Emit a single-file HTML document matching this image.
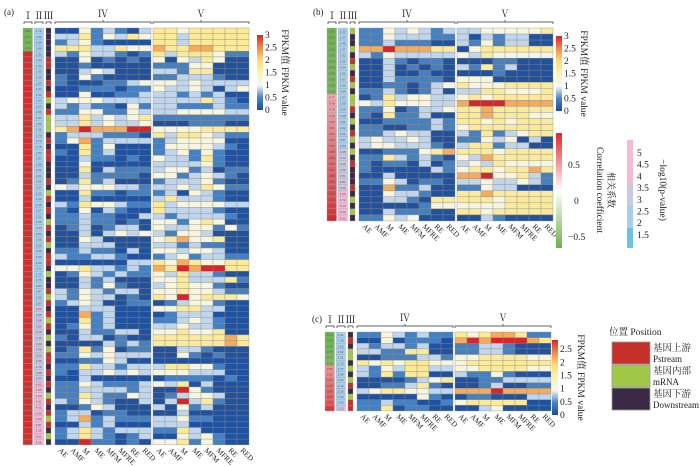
<!DOCTYPE html>
<html><head><meta charset="utf-8">
<style>
body{margin:0;background:#fff;}
svg{display:block;font-family:"Liberation Serif","Noto Serif CJK SC",serif;}
</style></head>
<body>
<svg id="fig" width="700" height="467" viewBox="0 0 700 467" xmlns="http://www.w3.org/2000/svg">
<defs>
<linearGradient id="fpkm" x1="0" y1="1" x2="0" y2="0">
<stop offset="0" stop-color="#1c4c9c"/><stop offset="0.17" stop-color="#4a86c5"/><stop offset="0.33" stop-color="#f4f7fb"/><stop offset="0.5" stop-color="#fbf3b0"/><stop offset="0.67" stop-color="#f9dc76"/><stop offset="0.83" stop-color="#f08a4b"/><stop offset="1" stop-color="#d9252a"/>
</linearGradient>
<linearGradient id="corr" x1="0" y1="1" x2="0" y2="0">
<stop offset="0" stop-color="#6fb24a"/><stop offset="0.5" stop-color="#ffffff"/><stop offset="1" stop-color="#e0262b"/>
</linearGradient>
</defs>
</svg>
<script>
// FPKM value codes (0..6) per row: 8 columns of IV followed by 8 columns of V
const levelValues=[0.05,0.45,0.85,1.2,1.7,2.3,3.0];
const samples=["AE","AMF","M","ME","MFM","MFRE","RE","RED"];
const rowsA=["0031210244344444","2241324344244444","1231000044244444","4442243354455444","2132210142444311","0030101030324300","0010000011133000","0023200022144000","1031000011222100","1000112333232222","0011101132232023","0030011222121200","2333222222224210","2121103122111211","1133113222333322","2242323411111111","2242322300011100","4565556633334444","1222111042443211","1351222212333300","0041300013333210","1041200012313100","0021101032214100","0030000022223100","0040211123312011","0021111033123210","0141200012223100","3233322122324311","0041101112032100","0020000024222100","2143321142333322","1030210042222100","1121100221222210","1121101033134300","0120122032233131","0020232321332000","0032000034533400","0022200022121100","1121102033233200","2112210012312211","0000002243543344","3342212154656644","0132121132422100","0021200033422241","0021310023433100","2132122033433211","2132201043634443","1232001101233100","0022200033442200","0051200001222000","0041200011232100","0131200022322100","0021122033433400","1022010044444454","0000212144444454","0141301100221000","1132322200310100","0011320000000000","1142212224433100","1022323233322200","0020000001111010","1132111232402000","1122221200631000","1142113201233200","2132100202624100","0013200020312000","1220110000200000","1251211122311000","0021200022200000","1242122211420000","1242101200323100","0061101033413100"];
const posA="dddddrrddrdrgdrgggdrdrrdddrdgrdrdgrdrgdrrdgddrgrdrgrdgdgrrdrdrdgrdrgrdgdgr";
const rowsB=["1132321222333334","1132221120212200","1121110021312200","5565554403444444","2132222232433333","0021011000011000","0020101021412000","0020010000010000","0021111033300000","0011012343334444","1121012022443334","0142332234344444","3243332256665555","1130122344544444","1041120044544433","0011112144343444","1100112134444444","1123220021412344","2322320011323020","2332221024412200","0011134544434444","1142121032544444","1011020123243333","1000002134434454","0020000055633421","1132011022322321","0051120011322000","0032210044544444","0022104444434444","0000013333334444","0021110044344444","1132300000210000"];
const posB="gddgdrgdrgdggrdgdrgdgdrdddrdgdgd";
const rowsC=["1132121143455411","0030111056566654","2122120011221000","2211440011221000","0011122133444433","4343443334444444","2132442233444433","2141440021131000","0000123400112222","0011241000120011","2344332255565555","0000031001100022","1121100134444400","1140110000230000"];
const posC="drdggdgdgrdgrr";
const corrA=["-0.80","-0.77","-0.74","-0.74","0.73","0.73","0.73","0.73","0.73","0.74","0.74","0.74","0.75","0.75","0.76","0.76","0.77","0.78","0.79","0.80","0.80","0.81","0.82","0.83","0.84","0.84","0.84","0.84","0.85","0.85","0.86","0.86","0.87","0.87","0.87","0.88","0.88","0.88","0.89","0.89","0.89","0.89","0.90","0.90","0.90","0.91","0.91","0.91","0.92","0.92","0.92","0.93","0.93","0.94","0.94","0.94","0.95","0.95","0.95","0.96","0.96","0.96","0.97","0.97","0.97","0.98","0.98","0.98","0.99","0.99","0.99","0.99"];
const pA=["1.76","1.80","1.88","1.88","1.30","1.33","1.33","1.33","1.33","1.39","1.43","1.52","1.53","1.53","1.56","1.57","1.59","1.65","1.70","1.72","1.75","1.82","1.83","1.88","2.01","2.04","2.06","2.07","2.10","2.16","2.19","2.27","2.31","2.36","2.50","2.52","2.55","2.56","2.60","2.63","2.69","2.71","2.73","2.76","2.80","2.87","2.92","2.97","3.02","3.05","3.08","3.09","3.16","3.19","3.29","3.38","3.56","3.65","3.76","3.88","3.95","4.03","4.05","4.09","4.11","4.21","4.39","4.53","4.87","5.18","5.61","6.06"];
const corrB=["-0.71","-0.71","-0.72","-0.72","-0.73","-0.73","-0.74","-0.74","-0.75","-0.75","-0.76","0.77","0.78","0.78","0.79","0.80","0.81","0.82","0.83","0.84","0.85","0.86","0.86","0.87","0.88","0.88","0.89","0.90","0.91","0.92","0.93","0.95"];
const pB=["1.33","1.37","1.45","1.47","1.52","1.52","1.64","1.66","1.67","1.80","1.86","1.97","2.00","2.06","2.38","2.41","2.52","2.62","2.67","2.93","3.08","3.12","3.26","3.30","3.51","3.82","3.90","4.06","4.73","5.10","5.20","5.30"];
const corrC=["-0.71","-0.72","-0.73","-0.75","-0.77","-0.79","0.80","0.81","0.84","0.85","0.86","0.87","0.88","0.92"];
const pC=["1.31","1.35","1.52","1.52","1.61","1.72","1.77","1.99","2.02","2.16","2.25","2.30","2.62","3.13"];

const NS="http://www.w3.org/2000/svg";
const svg=document.getElementById("fig");
function mk(tag,attrs,parent){const e=document.createElementNS(NS,tag);for(const k in attrs)e.setAttribute(k,attrs[k]);(parent||svg).appendChild(e);return e;}
function txt(x,y,s,size,extra,parent){const t=mk("text",Object.assign({x:x,y:y,"font-size":size,fill:"#222"},extra||{}),parent);t.textContent=s;return t;}
function lerp(a,b,t){return Math.round(a+(b-a)*t);}
const stops=[[0,[28,76,156]],[0.5,[74,134,197]],[1,[244,247,251]],[1.5,[251,243,176]],[2,[249,220,118]],[2.5,[240,138,75]],[3,[217,37,42]]];
function fpkmColor(v){v=Math.max(0,Math.min(3,v));for(let i=0;i<stops.length-1;i++){const a=stops[i],b=stops[i+1];if(v<=b[0]){const t=(v-a[0])/(b[0]-a[0]);return `rgb(${lerp(a[1][0],b[1][0],t)},${lerp(a[1][1],b[1][1],t)},${lerp(a[1][2],b[1][2],t)})`;}}return "rgb(217,37,42)";}
// panel a: solid; panels b/c: graded by |r|
function corrColorSolid(c){return parseFloat(c)<0?"#74b553":"#d9302d";}
function corrColorGraded(c){c=parseFloat(c);const t=Math.max(0,Math.min(1,(Math.abs(c)-0.7)/0.25));
  if(c<0)return `rgb(${lerp(150,110,1-t)},${lerp(200,180,1-t)},${lerp(120,80,1-t)})`;
  return `rgb(${lerp(250,222,t)},${lerp(215,40,t)},${lerp(222,45,t)})`;}
function pColor(p){p=parseFloat(p);if(p<3)return "#a8d0ee";if(p<4)return "#c9c9e2";return "#f4b9d4";}
const posColors={r:"#c5302b",g:"#a2c84a",d:"#3a2a45"};

function panel(name,rows,pos,corr,pv,x0,y0,h,cfn){
  const g=mk("g",{});
  
  
  const cw=12,gap=2,n=rows.length;
  const xI=x0-32,xII=x0-21,xIII=x0-9;
  const yOf=i=>y0+i*h;
  rows.forEach((r,i)=>{
    const y=yOf(i);
    const c1=mk("rect",{x:xI,y:y,width:9.5,height:h,fill:cfn(corr[i]),stroke:"#999","stroke-width":0.3},g);
    
    
    txt(xI+4.7,y+h*0.72,corr[i].replace("-",""),3,{"text-anchor":"middle",fill:"#555","font-family":"Liberation Sans"},g);
    const c2=mk("rect",{x:xII,y:y,width:9.5,height:h,fill:pColor(pv[i]),stroke:"#999","stroke-width":0.3},g);
    
    
    txt(xII+4.7,y+h*0.72,pv[i],3,{"text-anchor":"middle",fill:"#555","font-family":"Liberation Sans"},g);
    const c3=mk("rect",{x:xIII,y:y,width:5,height:h,fill:posColors[pos[i]],stroke:"#999","stroke-width":0.3},g);
    
    
    for(let j=0;j<16;j++){
      const v=levelValues[+r[j]];
      const x=x0+(j<8?j*cw:8*cw+gap+(j-8)*cw);
      const cell=mk("rect",{x:x,y:y,width:cw,height:h,fill:fpkmColor(v),stroke:"#8a8a8a","stroke-width":0.35},g);
      
      
    }
  });
  const yb=y0+n*h;
  for(let blk=0;blk<2;blk++){
    samples.forEach((s,j)=>{
      const x=x0+blk*(8*cw+gap)+j*cw+3;
      const t=txt(x,yb+6,s,7.5,{transform:`rotate(45 ${x} ${yb+6})`},g);
      
      
    });
  }
  const by=y0-6;
  function bracket(a,b,lab,ly){
    mk("path",{d:`M${a} ${by+2}V${by}H${b}V${by+2}`,fill:"none",stroke:"#333","stroke-width":0.7},g);
    if(b-a>20){mk("line",{x1:(a+b)/2,y1:by,x2:(a+b)/2,y2:by-2,stroke:"#333","stroke-width":0.7},g);}
    const t=txt((a+b)/2,ly,lab,10,{"text-anchor":"middle"},g);
    
    
  }
  bracket(xI+1,xI+9,"Ⅰ",by-3);bracket(xII+1,xII+9,"Ⅱ",by-3);bracket(xIII,xIII+5,"Ⅲ",by-3);
  bracket(x0,x0+8*cw,"Ⅳ",by-5);bracket(x0+8*cw+gap,x0+16*cw+gap,"Ⅴ",by-5);
  return g;
}
panel("panel-a",rowsA,posA,corrA,pA,55,28,5.79,corrColorSolid);
panel("panel-b",rowsB,posB,corrB,pB,359,28,6.03,corrColorGraded);
panel("panel-c",rowsC,posC,corrC,pC,357,332,5.64,corrColorGraded);
txt(4,15,"(a)",9);txt(313,15,"(b)",9);txt(312,322,"(c)",9);

function colorbar(x,y,h,fill,ticks,vmin,vmax,name,title,tx){
  const r=mk("rect",{x:x,y:y,width:6,height:h,fill:fill});
  
  
  ticks.forEach(v=>{const ty=y+h-(v-vmin)/(vmax-vmin)*h;txt(x+8,ty+3,String(v),9.5);});
  const t=txt(tx,y+h/2,title,9.5,{"text-anchor":"middle",transform:`rotate(90 ${tx} ${y+h/2})`});
  
  
}
colorbar(257,35,75,"url(#fpkm)",[0,0.5,1,1.5,2,2.5,3],0,3,"fpkm-colorbar-a","FPKM值 FPKM value",282);
colorbar(556,36,75,"url(#fpkm)",[0,0.5,1,1.5,2,2.5,3],0,3,"fpkm-colorbar-b","FPKM值 FPKM value",581);
colorbar(552,340,75,"url(#fpkm)",[0,0.5,1,1.5,2,2.5],0,2.85,"fpkm-colorbar-c","FPKM值 FPKM value",578);
const cb=mk("rect",{x:556,y:133,width:6,height:115,fill:"url(#corr)"});


txt(568,168,"0.5",9.5);txt(574,204,"0",9.5);txt(568,240,"−0.5",9.5);
let ct=txt(608,190,"相关系数",9,{"text-anchor":"middle",transform:"rotate(90 608 190)"});


ct=txt(597,190,"Correlation coefficient",9.5,{"text-anchor":"middle",transform:"rotate(90 597 190)"});


const pcol=[["#6ec2e6",228,248],["#a6cdea",206,228],["#c9c9e2",183,206],["#f4b9d4",140,183]];
pcol.forEach(c=>{const r=mk("rect",{x:627,y:c[1],width:6,height:c[2]-c[1],fill:c[0]});});
["5","4.5","4","3.5","3","2.5","2","1.5"].forEach((s,i)=>txt(637,156+i*11.7,s,9.5));
ct=txt(660,190,"−log10(p-value)",9.5,{"text-anchor":"middle",transform:"rotate(90 660 190)"});


txt(609,335,"位置 Position",9.5);
[["#c5302b","基因上游","Pstream"],["#a2c84a","基因内部","mRNA"],["#3a2a45","基因下游","Downstream"]].forEach((e,i)=>{
  const y=342+i*23;
  const r=mk("rect",{x:612,y:y,width:38,height:22,fill:e[0],stroke:"#999","stroke-width":0.8});
  
  
  txt(653,y+9,e[1],9.5);txt(653,y+20,e[2],9);
});
</script>
</body></html>
